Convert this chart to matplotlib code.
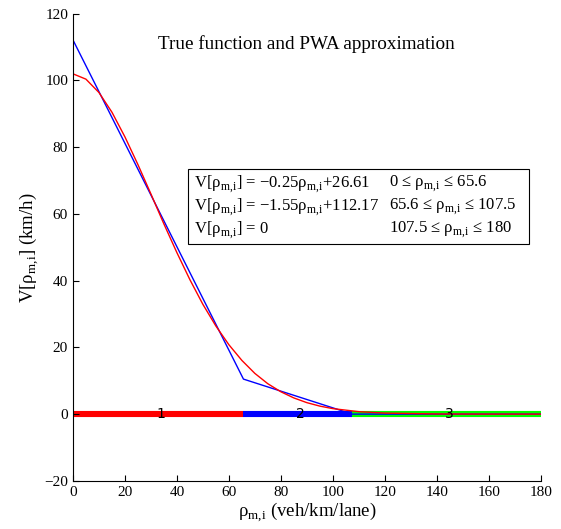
import matplotlib.pyplot as plt
import numpy as np

plt.rcParams['font.family'] = ['Liberation Serif', 'DejaVu Serif']
plt.rcParams['mathtext.fontset'] = 'custom'
plt.rcParams['mathtext.rm'] = 'Liberation Serif'

# true function
rho_true = [0, 5, 10, 15, 20, 25, 30, 35, 40, 45, 50, 55, 60, 65, 70, 75, 80,
            85, 90, 95, 100, 110, 120, 140, 160, 180]
v_true = [102.0, 100.4, 96.4, 90.5, 83.1, 74.8, 66.0, 57.0, 48.4, 40.3, 32.9,
          26.4, 20.8, 16.1, 12.2, 9.1, 6.7, 4.85, 3.44, 2.40, 1.65, 0.74, 0.31,
          0.05, 0.01, 0.0]

# PWA approximation
rho_pwa = [0, 65.6, 107.5, 180]
v_pwa = [112.17, 10.5, 0.0, 0.0]

# regions
region_edges = [0, 65.6, 107.5, 180]
region_colors = ['#ff0000', '#0000ff', '#00ff00']
region_labels = ['1', '2', '3']

fig = plt.figure(figsize=(5.61, 5.29), dpi=100)
ax = fig.add_axes([0.130, 0.091, 0.834, 0.883])

for i in range(3):
    ax.plot([region_edges[i], region_edges[i + 1]], [0, 0], color=region_colors[i],
            linewidth=4.4, solid_capstyle='butt', zorder=1)
    mid = (region_edges[i] + region_edges[i + 1]) / 2
    ax.text(mid + 1, 0, region_labels[i], ha='center', va='center', fontsize=10,
            family='DejaVu Sans', color='black', zorder=3)

ax.plot(rho_pwa, v_pwa, color='blue', linewidth=1, zorder=2)
ax.plot(rho_true, v_true, color='red', linewidth=1, zorder=2)

ax.set_xlim(0, 180)
ax.set_ylim(-20, 120)
ax.set_xticks(np.arange(0, 181, 20))
ax.set_yticks(np.arange(-20, 121, 20))
ax.tick_params(direction='in', labelsize=11, length=4)
ax.spines['top'].set_visible(False)
ax.spines['right'].set_visible(False)

sub = r'$_{\mathrm{m,\!i}}$'
ax.set_xlabel('ρ' + sub + ' (veh/km/lane)', fontsize=13.5, labelpad=1)
ax.set_ylabel('V[ρ' + sub + '] (km/h)', fontsize=13.5, labelpad=2)

ax.text(90, 111, 'True function and PWA approximation', ha='center', va='center',
        fontsize=13.8)

# legend box with the piecewise expressions
left_txt = ['V[ρ' + sub + '] = \u22120.25ρ' + sub + '+26.61',
            'V[ρ' + sub + '] = \u22121.55ρ' + sub + '+112.17',
            'V[ρ' + sub + '] = 0']
right_txt = ['0 \u2264 ρ' + sub + ' \u2264 65.6',
             '65.6 \u2264 ρ' + sub + ' \u2264 107.5',
             '107.5 \u2264 ρ' + sub + ' \u2264 180']
box = plt.Rectangle((44.4, 50.9), 131.2, 22.7, fill=False, edgecolor='black',
                    linewidth=0.8, zorder=4)
ax.add_patch(box)
for k in range(3):
    y = 69.0 - k * 6.9
    ax.text(46.7, y, left_txt[k], ha='left', va='center', fontsize=12, zorder=5)
    ax.text(121.6, y, right_txt[k], ha='left', va='center', fontsize=12, zorder=5)

plt.savefig('out.png', dpi=100)
